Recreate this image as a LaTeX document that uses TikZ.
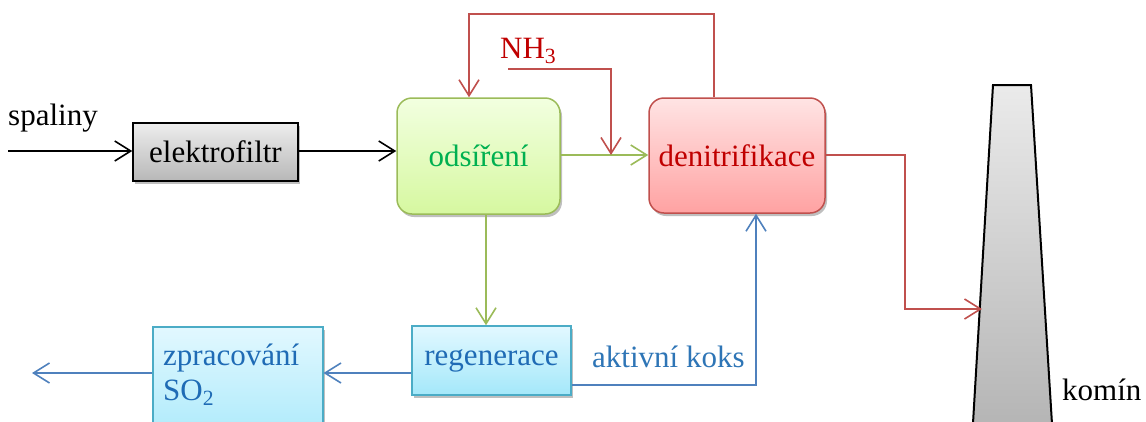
\documentclass[tikz,border=0pt]{standalone}
\usepackage{fontspec}
\setmainfont{Liberation Serif}
\usetikzlibrary{arrows.meta,shadows}
\definecolor{cGreenLine}{HTML}{9BBB59}
\definecolor{cGreenText}{HTML}{00B050}
\definecolor{cRedLine}{HTML}{C0504D}
\definecolor{cRedText}{HTML}{C00000}
\definecolor{cBlueLine}{HTML}{4F81BD}
\definecolor{cBlueText}{HTML}{1F6BB5}
\definecolor{cBlueText2}{HTML}{2E75B6}
\definecolor{cCyanLine}{HTML}{4BACC6}
\tikzset{
  big/.style={font=\fontsize{31}{36}\selectfont},
  boxbase/.style={big, draw, line width=1.5pt, inner sep=0pt,
    drop shadow={shadow xshift=2pt, shadow yshift=-3pt, opacity=0.25, fill=black}},
  grayBox/.style={boxbase, draw=black, top color=white!93!black, bottom color=white!72!black},
  greenBox/.style={boxbase, rounded corners=15pt, draw=cGreenLine, top color={rgb,255:red,242;green,255;blue,224}, bottom color={rgb,255:red,214;green,248;blue,160}, text=cGreenText},
  redBox/.style={boxbase, rounded corners=15pt, draw=cRedLine, top color={rgb,255:red,255;green,228;blue,228}, bottom color={rgb,255:red,255;green,162;blue,162}, text=cRedText},
  cyanBox/.style={boxbase, draw=cCyanLine, top color={rgb,255:red,226;green,248;blue,255}, bottom color={rgb,255:red,164;green,232;blue,250}, text=cBlueText},
  flow/.style={line width=1.6pt, -{Straight Barb[length=16pt,width=20pt,line width=1.6pt]}},
  plainline/.style={line width=1.6pt},
  lbl/.style={big, inner sep=0pt, anchor=base west}
}
\begin{document}
\begin{tikzpicture}[x=1pt,y=-1pt]
\useasboundingbox (0,0) rectangle (1146,421);
% chimney
\shade[top color=white!92!black, bottom color=white!70!black]
  (993,85) -- (1031,85) -- (1053,440) -- (972,440) -- cycle;
\draw[line width=2pt, line join=miter] (972,440) -- (993,85) -- (1031,85) -- (1053,440);
\coordinate (chimIn) at (982,309);
% nodes
\node[grayBox, minimum width=165pt, minimum height=58pt] (ef) at (215.5,152) {elektrofiltr};
\node[greenBox, minimum width=163pt, minimum height=116pt] (ods) at (478.5,156) {odsíření};
\node[redBox, minimum width=176pt, minimum height=115pt] (den) at (737,155.5) {denitrifikace};
\node[cyanBox, minimum width=159pt, minimum height=69pt] (reg) at (491.5,360.5) {regenerace};
\node[cyanBox, minimum width=170pt, minimum height=130pt, anchor=north west] (zpr) at (152,326) {};
\node[lbl, text=cBlueText] (zprA) at (163,365) {zpracování};
\node[lbl, text=cBlueText] (zprB) at (163,400) {SO\textsubscript{2}};
\node[lbl] (spal) at (8,125) {spaliny};
\node[lbl, text=cRedText] (nh3) at (500,58) {NH\textsubscript{3}};
\node[lbl, text=cBlueText2] (akt) at (592,367) {aktivní koks};
\node[lbl] (kom) at (1062,400) {komín};
% helper coordinates
\coordinate (sIn) at (8,151);
\coordinate (loopR) at (714,14);
\coordinate (loopL) at (469,14);
\coordinate (nhS) at (508,69);
\coordinate (nhC) at (611,69);
\coordinate (rc) at (905,155);
\coordinate (gx) at (486,0);
\coordinate (by) at (0,373);
\coordinate (ky) at (0,385);
\coordinate (bx) at (756,0);
\coordinate (outL) at (32,373);
% connectors
\draw[flow] (sIn) -- (sIn -| ef.west);
\draw[flow] (ef.east |- sIn) -- (sIn -| ods.west);
\draw[flow, cGreenLine] (ods.east |- rc) -- (rc -| den.west);
\draw[flow, cRedLine] (den.north -| loopR) -- (loopR) -- (loopL) -- (loopL |- ods.north);
\draw[flow, cRedLine] (nhS) -- (nhC) -- (nhC |- rc);
\draw[flow, cRedLine] (den.east |- rc) -- (rc) -- (rc |- chimIn) -- (chimIn);
\draw[flow, cGreenLine] (ods.south -| gx) -- (reg.north -| gx);
\draw[flow, cBlueLine] (reg.west |- by) -- (zpr.east |- by);
\draw[flow, cBlueLine] (zpr.west |- by) -- (outL);
\draw[flow, cBlueLine] (reg.east |- ky) -- (bx |- ky) -- (bx |- den.south);
\end{tikzpicture}
\end{document}
